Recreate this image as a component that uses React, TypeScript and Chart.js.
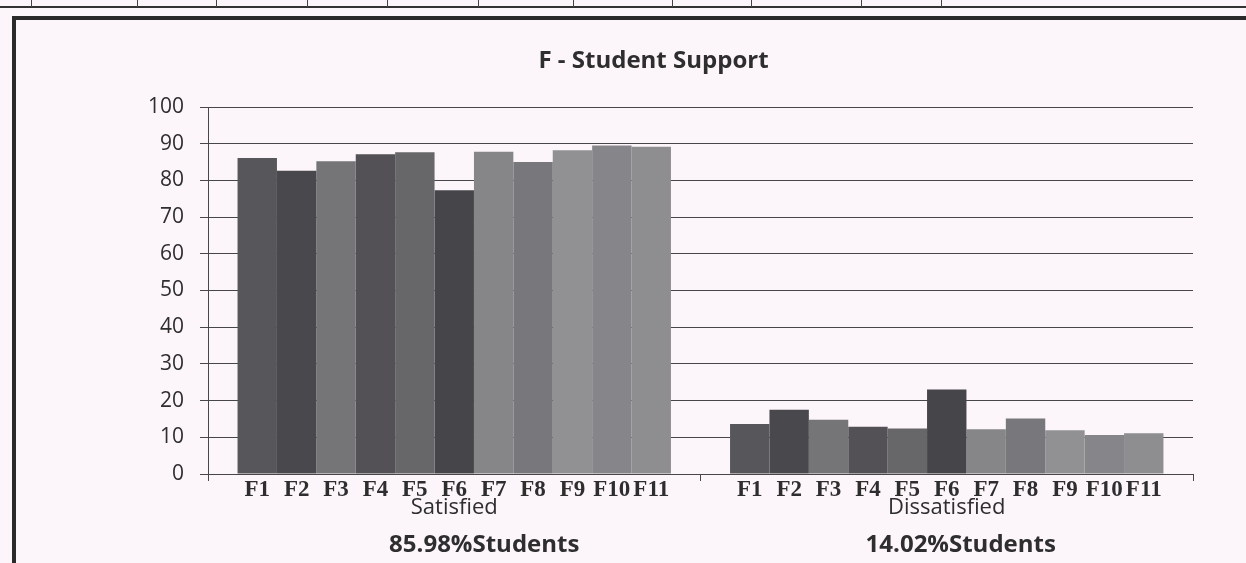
import React, { useEffect, useRef } from 'react';
import { Chart, registerables } from 'chart.js';

Chart.register(...registerables);

// ---- data ----
const categories = ['Satisfied', 'Dissatisfied'];
const seriesLabels = ['F1', 'F2', 'F3', 'F4', 'F5', 'F6', 'F7', 'F8', 'F9', 'F10', 'F11'];
const satisfied = [86.1, 82.6, 85.2, 87.1, 87.7, 77.3, 87.8, 85.0, 88.2, 89.5, 89.2];
const dissatisfied = [13.6, 17.5, 14.8, 12.9, 12.4, 23.0, 12.2, 15.1, 11.9, 10.6, 11.1];
const groupTotals = ['85.98%Students', '14.02%Students'];
const yTicks = [0, 10, 20, 30, 40, 50, 60, 70, 80, 90, 100];
const chartTitle = 'F - Student Support';

// ---- styles ----
const seriesColors = [
  '#57575b', '#49484c', '#757578', '#535155', '#676669', '#464549',
  '#868688', '#78777b', '#919193', '#868589', '#8e8e90',
];
const TEXT = '#2e2e2e';
const GRID = '#474747';
const BG = '#fcf5f9';
const SANS = '"Open Sans", "DejaVu Sans", sans-serif';
const SERIF = '"Liberation Serif", "DejaVu Serif", serif';
const totalOffsets = [30, 14];
const tableDividers = [31, 137, 216, 307, 387, 478, 573, 672, 751, 861, 941];

const extraLabels = {
  id: 'extraLabels',
  afterDraw(chart: any) {
    const ctx = chart.ctx as CanvasRenderingContext2D;
    const xs = chart.scales.x;
    const area = chart.chartArea;
    ctx.save();
    ctx.fillStyle = TEXT;
    ctx.textAlign = 'center';
    ctx.textBaseline = 'middle';
    // title
    ctx.font = `bold 24px ${SANS}`;
    ctx.fillText(chartTitle, (area.left + area.right) / 2 - 47, 61);
    // series labels under each bar
    ctx.font = `bold 23px ${SERIF}`;
    chart.data.datasets.forEach((ds: any, di: number) => {
      const meta = chart.getDatasetMeta(di);
      meta.data.forEach((bar: any) => {
        ctx.fillText(ds.label, bar.x, xs.top + 16);
      });
    });
    // group totals
    ctx.font = `bold 24px ${SANS}`;
    groupTotals.forEach((t, i) => {
      ctx.fillText(t, xs.getPixelForValue(i) + totalOffsets[i], area.bottom + 71);
    });
    ctx.restore();
  },
};

export default function App() {
  const ref = useRef<HTMLCanvasElement | null>(null);

  useEffect(() => {
    if (!ref.current) return;
    const datasets = seriesLabels.map((label, i) => ({
      label,
      data: [satisfied[i], dissatisfied[i]],
      backgroundColor: seriesColors[i],
      borderWidth: 0,
      barPercentage: 1.0,
      categoryPercentage: 0.88,
    }));
    const chart = new Chart(ref.current, {
      type: 'bar',
      data: { labels: categories, datasets },
      options: {
        responsive: false,
        animation: false,
        devicePixelRatio: 1,
        layout: { padding: { left: 108, right: 53, top: 107, bottom: 0 } },
        plugins: {
          legend: { display: false },
          title: { display: false },
          tooltip: { enabled: false },
        },
        scales: {
          x: {
            afterFit: (s: any) => { s.height = 89; },
            grid: {
              display: true,
              offset: true,
              drawOnChartArea: false,
              drawTicks: true,
              tickLength: 7,
              color: GRID,
            },
            border: { display: true, color: GRID, width: 1 },
            ticks: {
              color: TEXT,
              padding: 14,
              font: { family: SANS, size: 22 },
              maxRotation: 0,
            },
          },
          y: {
            min: 0,
            max: 100,
            afterFit: (s: any) => { s.width = 100; },
            afterBuildTicks: (s: any) => { s.ticks = yTicks.map((v) => ({ value: v })); },
            grid: { color: GRID, lineWidth: 1, tickLength: 8 },
            border: { display: true, color: GRID, width: 1 },
            ticks: {
              color: TEXT,
              padding: 16,
              font: { family: SANS, size: 21 },
            },
          },
        },
      },
      plugins: [extraLabels],
    });
    return () => chart.destroy();
  }, []);

  return (
    <div
      style={{
        position: 'fixed',
        left: 0,
        top: 0,
        width: 1246,
        height: 563,
        overflow: 'hidden',
        background: BG,
      }}
    >
      <div style={{ position: 'absolute', left: 0, top: 6, width: 1246, height: 2, background: '#333' }} />
      {tableDividers.map((x) => (
        <div key={x} style={{ position: 'absolute', left: x, top: 0, width: 1, height: 7, background: '#444' }} />
      ))}
      <div
        style={{
          position: 'absolute',
          left: 12,
          top: 16,
          width: 1400,
          height: 800,
          border: '4px solid #2a2a2a',
          boxSizing: 'border-box',
        }}
      />
      <canvas
        ref={ref}
        width={1246}
        height={563}
        style={{ position: 'absolute', left: 0, top: 0, width: 1246, height: 563 }}
      />
    </div>
  );
}
